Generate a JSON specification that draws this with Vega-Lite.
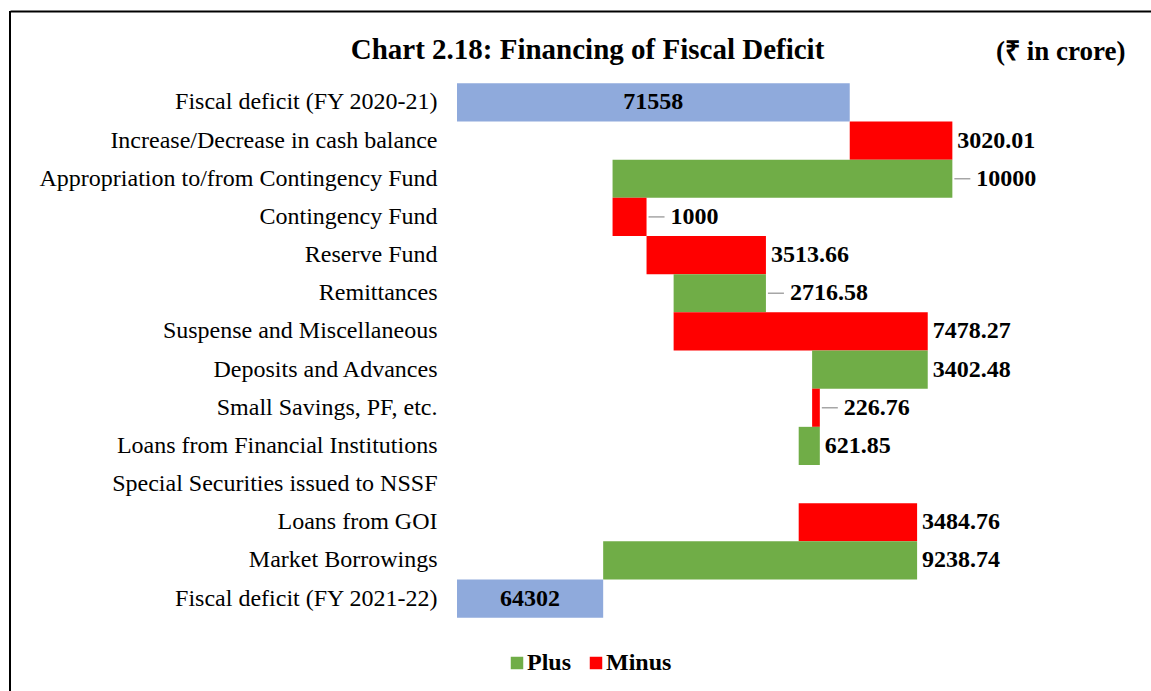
{
  "$schema": "https://vega.github.io/schema/vega-lite/v6.json",
  "width": 1141,
  "height": 680,
  "autosize": {"type": "none"},
  "padding": {"left": 10, "top": 11, "right": 0, "bottom": 0},
  "background": "white",
  "title": {
    "text": "Chart 2.18: Financing of Fiscal Deficit",
    "font": "Liberation Serif",
    "fontSize": 29,
    "fontWeight": "bold",
    "color": "black",
    "anchor": "middle",
    "frame": "group",
    "dx": 7,
    "offset": -78,
    "baseline": "alphabetic"
  },
  "data": {
    "values": [
      {"item": "Fiscal deficit (FY 2020-21)", "type": "Total", "lo": 60000, "hi": 71558, "value": 71558, "label": "71558"},
      {"item": "Increase/Decrease in cash balance", "type": "Minus", "lo": 71558, "hi": 74578.01, "value": 3020.01, "label": "3020.01"},
      {"item": "Appropriation to/from Contingency Fund", "type": "Plus", "lo": 64578.01, "hi": 74578.01, "value": 10000, "label": "10000"},
      {"item": "Contingency Fund\u00a0", "type": "Minus", "lo": 64578.01, "hi": 65578.01, "value": 1000, "label": "1000"},
      {"item": "Reserve Fund", "type": "Minus", "lo": 65578.01, "hi": 69091.67, "value": 3513.66, "label": "3513.66"},
      {"item": "Remittances", "type": "Plus", "lo": 66375.09, "hi": 69091.67, "value": 2716.58, "label": "2716.58"},
      {"item": "Suspense and Miscellaneous", "type": "Minus", "lo": 66375.09, "hi": 73853.36, "value": 7478.27, "label": "7478.27"},
      {"item": "Deposits and Advances", "type": "Plus", "lo": 70450.88, "hi": 73853.36, "value": 3402.48, "label": "3402.48"},
      {"item": "Small Savings, PF, etc.", "type": "Minus", "lo": 70450.88, "hi": 70677.64, "value": 226.76, "label": "226.76"},
      {"item": "Loans from Financial Institutions", "type": "Plus", "lo": 70055.79, "hi": 70677.64, "value": 621.85, "label": "621.85"},
      {"item": "Special Securities issued to NSSF", "type": "Plus", "lo": 70055.79, "hi": 70055.79, "value": 0, "label": ""},
      {"item": "Loans from GOI", "type": "Minus", "lo": 70055.79, "hi": 73540.55, "value": 3484.76, "label": "3484.76"},
      {"item": "Market Borrowings", "type": "Plus", "lo": 64301.81, "hi": 73540.55, "value": 9238.74, "label": "9238.74"},
      {"item": "Fiscal deficit (FY 2021-22)", "type": "Total", "lo": 60000, "hi": 64302, "value": 64302, "label": "64302"}
    ]
  },
  "layer": [
    {
      "encoding": {
        "y": {
          "field": "item",
          "type": "nominal",
          "sort": null,
          "scale": {
            "domain": ["Fiscal deficit (FY 2020-21)", "Increase/Decrease in cash balance", "Appropriation to/from Contingency Fund", "Contingency Fund\u00a0", "Reserve Fund", "Remittances", "Suspense and Miscellaneous", "Deposits and Advances", "Small Savings, PF, etc.", "Loans from Financial Institutions", "Special Securities issued to NSSF", "Loans from GOI", "Market Borrowings", "Fiscal deficit (FY 2021-22)"],
            "range": [72.3, 606.7],
            "paddingInner": 0,
            "paddingOuter": 0
          },
          "axis": {
            "title": null,
            "domain": false,
            "ticks": false,
            "tickSize": 0,
            "grid": false,
            "labelPadding": -427,
            "labelFont": "Liberation Serif",
            "labelFontSize": 24,
            "labelColor": "black",
            "labelLimit": 700
          }
        }
      },
      "layer": [
        {
          "mark": {"type": "bar"},
          "encoding": {
            "x": {
              "field": "lo",
              "type": "quantitative",
              "scale": {"domain": [46845, 80424], "nice": false, "zero": false},
              "axis": {
                "orient": "top",
                "domain": true,
                "domainColor": "black",
                "domainWidth": 2,
                "ticks": false,
                "labels": false,
                "grid": false,
                "title": "(₹ in crore)",
                "titleFont": "Liberation Serif",
                "titleFontSize": 27,
                "titleFontWeight": "bold",
                "titleColor": "black",
                "titleX": 1115,
                "titleY": 48,
                "titleAlign": "right",
                "titleAnchor": "end",
                "titleBaseline": "alphabetic"
              }
            },
            "x2": {"field": "hi"},
            "color": {
              "field": "type",
              "type": "nominal",
              "scale": {"domain": ["Plus", "Minus", "Total"], "range": ["#70AD47", "#FF0000", "#8FAADC"]},
              "legend": {
                "values": ["Plus", "Minus"],
                "title": null,
                "orient": "none",
                "legendX": 495,
                "legendY": 640,
                "direction": "horizontal",
                "symbolType": "square",
                "symbolSize": 156,
                "symbolStrokeWidth": 0,
                "labelFont": "Liberation Serif",
                "labelFontSize": 24,
                "labelFontWeight": "bold",
                "labelColor": "black",
                "labelOffset": -2,
                "columnPadding": 12,
                "padding": 0
              }
            }
          }
        },
        {
          "transform": [
            {"filter": "datum.type != 'Total' && datum.value != 0"},
            {"filter": {"not": {"field": "item", "oneOf": ["Appropriation to/from Contingency Fund", "Contingency Fund\u00a0", "Remittances", "Small Savings, PF, etc."]}}}
          ],
          "mark": {"type": "text", "align": "left", "baseline": "middle", "dx": 5, "font": "Liberation Serif", "fontSize": 24, "fontWeight": "bold", "color": "black"},
          "encoding": {
            "x": {"field": "hi", "type": "quantitative"},
            "text": {"field": "label"}
          }
        },
        {
          "transform": [
            {"filter": {"field": "item", "oneOf": ["Appropriation to/from Contingency Fund", "Contingency Fund\u00a0", "Remittances", "Small Savings, PF, etc."]}}
          ],
          "mark": {"type": "text", "align": "left", "baseline": "middle", "dx": 24, "font": "Liberation Serif", "fontSize": 24, "fontWeight": "bold", "color": "black"},
          "encoding": {
            "x": {"field": "hi", "type": "quantitative"},
            "text": {"field": "label"}
          }
        },
        {
          "transform": [
            {"filter": {"field": "item", "oneOf": ["Appropriation to/from Contingency Fund", "Contingency Fund\u00a0", "Remittances", "Small Savings, PF, etc."]}}
          ],
          "mark": {"type": "rule", "color": "#A6A6A6", "strokeWidth": 1.5, "xOffset": 2, "x2Offset": 18},
          "encoding": {
            "x": {"field": "hi", "type": "quantitative"},
            "x2": {"field": "hi"}
          }
        },
        {
          "transform": [
            {"filter": "datum.type == 'Total'"},
            {"calculate": "(datum.lo + datum.hi) / 2", "as": "mid"}
          ],
          "mark": {"type": "text", "align": "center", "baseline": "middle", "font": "Liberation Serif", "fontSize": 24, "fontWeight": "bold", "color": "black"},
          "encoding": {
            "x": {"field": "mid", "type": "quantitative"},
            "text": {"field": "label"}
          }
        }
      ]
    },
    {
      "transform": [{"filter": "datum.item == 'Fiscal deficit (FY 2020-21)'"}],
      "mark": {"type": "rule", "color": "black", "strokeWidth": 2},
      "encoding": {
        "x": {"datum": 46845, "type": "quantitative"}
      }
    }
  ],
  "config": {"view": {"stroke": null}}
}
